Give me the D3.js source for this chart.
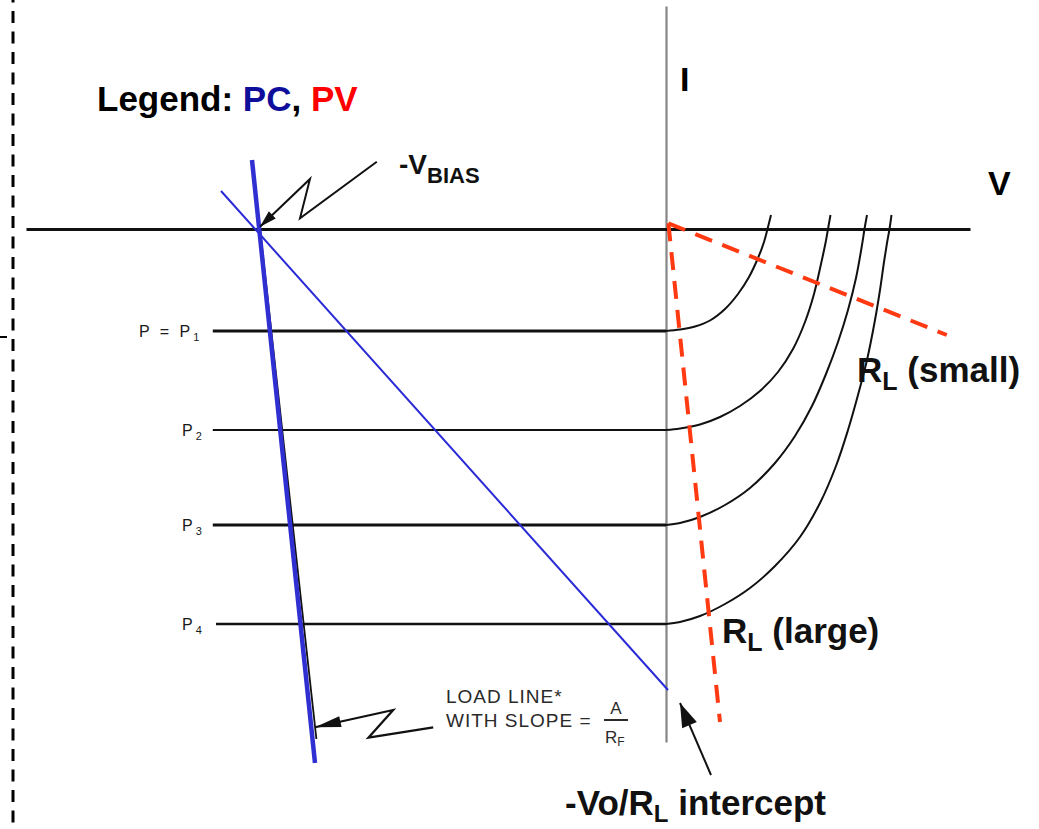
<!DOCTYPE html>
<html>
<head>
<meta charset="utf-8">
<script src="https://cdn.jsdelivr.net/npm/d3@7"></script>
<style>
  html, body { margin: 0; padding: 0; background: #fff; }
  svg { display: block; }
  text { font-family: "Liberation Sans", Arial, sans-serif; }
</style>
</head>
<body>
<div id="chart"></div>
<script>
// Photodiode I-V diagram (PC / PV modes)
const width = 1039, height = 829;

// --- data (V in arbitrary units, I in units of photocurrent step) ---
const powerLabels = ["P1", "P2", "P3", "P4"];
const photoCurrent = [-1.02, -2.01, -2.96, -3.95];
const lineStartV = [-11.33, -11.33, -11.33, -11.25];
const lineWidths = [3, 2, 3, 2.6];

const curveP1 = [[0, -1.02], [0.35, -1.005], [0.725, -0.975], [1.1, -0.915], [1.475, -0.80], [1.8, -0.65], [2.075, -0.48], [2.3, -0.29], [2.45, -0.13], [2.5375, 0], [2.625, 0.14]];
const curveP2 = [[0, -2.01], [0.35, -1.995], [0.85, -1.955], [1.35, -1.88], [1.85, -1.77], [2.35, -1.62], [2.8, -1.43], [3.175, -1.2], [3.475, -0.93], [3.7, -0.65], [3.875, -0.35], [3.9875, -0.14], [4.05, 0], [4.1125, 0.14]];
const curveP3 = [[0, -2.96], [0.35, -2.94], [0.85, -2.88], [1.475, -2.76], [2.1, -2.59], [2.725, -2.34], [3.225, -2.07], [3.65, -1.77], [4.0, -1.45], [4.3, -1.13], [4.55, -0.81], [4.75, -0.49], [4.9, -0.16], [4.9625, 0], [5.025, 0.14]];
const curveP4 = [[0, -3.95], [0.35, -3.93], [0.85, -3.87], [1.475, -3.75], [2.1, -3.59], [2.725, -3.37], [3.35, -3.08], [3.85, -2.74], [4.25, -2.37], [4.55, -2.01], [4.8, -1.66], [5.025, -1.31], [5.225, -0.91], [5.35, -0.61], [5.45, -0.33], [5.525, -0.14], [5.5875, 0], [5.6375, 0.14]];
const ivCurves = [curveP1, curveP2, curveP3, curveP4];

const pcLoadLine = [[-10.35, 0.69], [-8.775, -5.34]];     // thick blue
const printedLoadLine = [[-10.15, 0], [-8.74, -5.10]];    // black line under it
const pcSlopedLine = [[-11.125, 0.38], [0.05, -4.61]];   // thin blue
const pvSmallRL = [[0.06, 0.057], [7.02, -1.06]];
const pvLargeRL = [[0.06, 0.057], [1.35, -4.93]];

const iAxisRange = [2.23, -5.13];

// zig-zag callout arrows (last point = tip)
const biasArrow = [[-7.23, 0.673], [-9.15, 0.107], [-8.9, 0.5], [-10.15, 0.023]];
const loadArrow = [[-5.82, -4.983], [-7.44, -5.087], [-6.82, -4.81], [-8.775, -4.983]];
const interceptArrow = [[1.125, -5.46], [0.35, -4.74]];

// --- scales ---
const x = d3.scaleLinear().domain([-16, 7.6]).range([26, 970]);
const y = d3.scaleLinear().domain([2.23, -6.0]).range([6, 829]);

const svg = d3.select("#chart").append("svg")
    .attr("width", width).attr("height", height);

const line = d3.line().x(d => x(d[0])).y(d => y(d[1]));

// dashed page border on the left
svg.append("line")
    .attr("x1", 13).attr("x2", 13).attr("y1", 0).attr("y2", height)
    .attr("stroke", "#000").attr("stroke-width", 3)
    .attr("stroke-dasharray", "12,8.5").attr("stroke-dashoffset", 9.5);
svg.append("line")
    .attr("x1", 0).attr("x2", 7).attr("y1", 337).attr("y2", 337)
    .attr("stroke", "#000").attr("stroke-width", 2);

// I axis (vertical, gray)
svg.append("g")
    .attr("transform", `translate(${x(0)},0)`)
    .call(d3.axisLeft(d3.scaleLinear().domain(iAxisRange).range([y(iAxisRange[0]), y(iAxisRange[1])])).ticks(0).tickSizeOuter(0))
    .call(g => g.select(".domain").attr("stroke", "#858585").attr("stroke-width", 2.2));

// V axis (horizontal, black)
svg.append("g")
    .attr("transform", `translate(0,${y(0)})`)
    .call(d3.axisBottom(x).ticks(0).tickSizeOuter(0))
    .call(g => g.select(".domain").attr("stroke", "#111").attr("stroke-width", 3));

// horizontal illumination lines
svg.append("g")
    .selectAll("line")
    .data(photoCurrent)
    .join("line")
    .attr("x1", (d, i) => x(lineStartV[i]))
    .attr("x2", x(0))
    .attr("y1", d => y(d))
    .attr("y2", d => y(d))
    .attr("stroke", "#111")
    .attr("stroke-width", (d, i) => lineWidths[i]);

// PV-side I-V curves
svg.append("g")
    .selectAll("path")
    .data(ivCurves)
    .join("path")
    .attr("d", d3.line().x(d => x(d[0])).y(d => y(d[1])).curve(d3.curveCatmullRom.alpha(0.5)))
    .attr("fill", "none")
    .attr("stroke", "#111")
    .attr("stroke-width", 2);

// power labels
const pLabels = svg.append("g")
    .attr("font-size", 16).attr("fill", "#1a1a1a");
photoCurrent.forEach((d, i) => {
    const t = pLabels.append("text")
        .attr("x", i === 0 ? 139 : 182)
        .attr("y", y(d) + 6)
        .attr("letter-spacing", 3);
    t.append("tspan").text(i === 0 ? "P = P" : "P");
    t.append("tspan").attr("dy", 4).attr("font-size", 11).attr("letter-spacing", 0).text(powerLabels[i].slice(1));
});

// printed load line and PC lines
svg.append("path").attr("d", line(printedLoadLine))
    .attr("stroke", "#111").attr("stroke-width", 1.8).attr("fill", "none");
svg.append("path").attr("d", line(pcSlopedLine))
    .attr("stroke", "#2a2ad6").attr("stroke-width", 2).attr("fill", "none");
svg.append("path").attr("d", line(pcLoadLine))
    .attr("stroke", "#2f2fd2").attr("stroke-width", 4.5).attr("fill", "none");

// PV load lines (red dashed)
svg.append("g")
    .selectAll("path")
    .data([pvSmallRL, pvLargeRL])
    .join("path")
    .attr("d", line)
    .attr("fill", "none")
    .attr("stroke", "#ff3a12")
    .attr("stroke-width", 4)
    .attr("stroke-dasharray", "18,11");

// arrows
function drawArrow(pts, headLen, headW, sw) {
    svg.append("path").attr("d", line(pts))
        .attr("fill", "none").attr("stroke", "#111").attr("stroke-width", sw)
        .attr("stroke-linejoin", "miter");
    const a = pts[pts.length - 2], b = pts[pts.length - 1];
    const ax = x(a[0]), ay = y(a[1]), bx = x(b[0]), by = y(b[1]);
    const len = Math.hypot(bx - ax, by - ay);
    const ux = (bx - ax) / len, uy = (by - ay) / len;
    const baseX = bx - ux * headLen, baseY = by - uy * headLen;
    svg.append("path")
        .attr("d", `M${bx},${by}L${baseX - uy * headW / 2},${baseY + ux * headW / 2}L${baseX + uy * headW / 2},${baseY - ux * headW / 2}Z`)
        .attr("fill", "#111");
}
drawArrow(biasArrow, 17, 10, 2);
drawArrow(loadArrow, 26, 11, 2.2);
drawArrow(interceptArrow, 24, 16, 2);

// --- text ---
const legend = svg.append("text")
    .attr("x", 97).attr("y", 111)
    .attr("font-size", 35).attr("font-weight", "bold");
legend.append("tspan").attr("fill", "#000").text("Legend: ");
legend.append("tspan").attr("fill", "#0e0e9a").text("PC");
legend.append("tspan").attr("fill", "#000").text(", ");
legend.append("tspan").attr("fill", "#ff0000").text("PV");

const bias = svg.append("text")
    .attr("x", 399).attr("y", 174)
    .attr("font-size", 28).attr("font-weight", "bold").attr("fill", "#111");
bias.append("tspan").text("-V");
bias.append("tspan").attr("dy", 9).attr("font-size", 22).text("BIAS");

svg.append("text")
    .attr("x", 680).attr("y", 91)
    .attr("font-size", 34).attr("font-weight", "bold").text("I");
svg.append("text")
    .attr("x", 988).attr("y", 195)
    .attr("font-size", 34).attr("font-weight", "bold").text("V");

function rlLabel(px, py, suffix) {
    const t = svg.append("text")
        .attr("x", px).attr("y", py)
        .attr("font-size", 35).attr("font-weight", "bold").attr("fill", "#111");
    t.append("tspan").text("R");
    t.append("tspan").attr("dy", 8).attr("font-size", 25).text("L");
    t.append("tspan").attr("dy", -8).text(" " + suffix);
}
rlLabel(857, 382, "(small)");
rlLabel(722, 643, "(large)");

const inter = svg.append("text")
    .attr("x", 565).attr("y", 815)
    .attr("font-size", 35).attr("font-weight", "bold").attr("fill", "#111");
inter.append("tspan").text("-Vo/R");
inter.append("tspan").attr("dy", 7).attr("font-size", 24).text("L");
inter.append("tspan").attr("dy", -7).text(" intercept");

// load line note
const note = svg.append("g").attr("fill", "#2a2a2a").attr("font-size", 19);
note.append("text").attr("x", 446).attr("y", 703).attr("letter-spacing", 1).text("LOAD LINE*");
note.append("text").attr("x", 446).attr("y", 727).attr("letter-spacing", 1).text("WITH SLOPE  =");
note.append("text").attr("x", 616).attr("y", 714).attr("text-anchor", "middle").attr("font-size", 17).text("A");
note.append("line").attr("x1", 604).attr("x2", 628).attr("y1", 720).attr("y2", 720)
    .attr("stroke", "#2a2a2a").attr("stroke-width", 2);
const rf = note.append("text").attr("x", 605).attr("y", 743).attr("font-size", 17);
rf.append("tspan").text("R");
rf.append("tspan").attr("dy", 3).attr("font-size", 12).text("F");
</script>
</body>
</html>
